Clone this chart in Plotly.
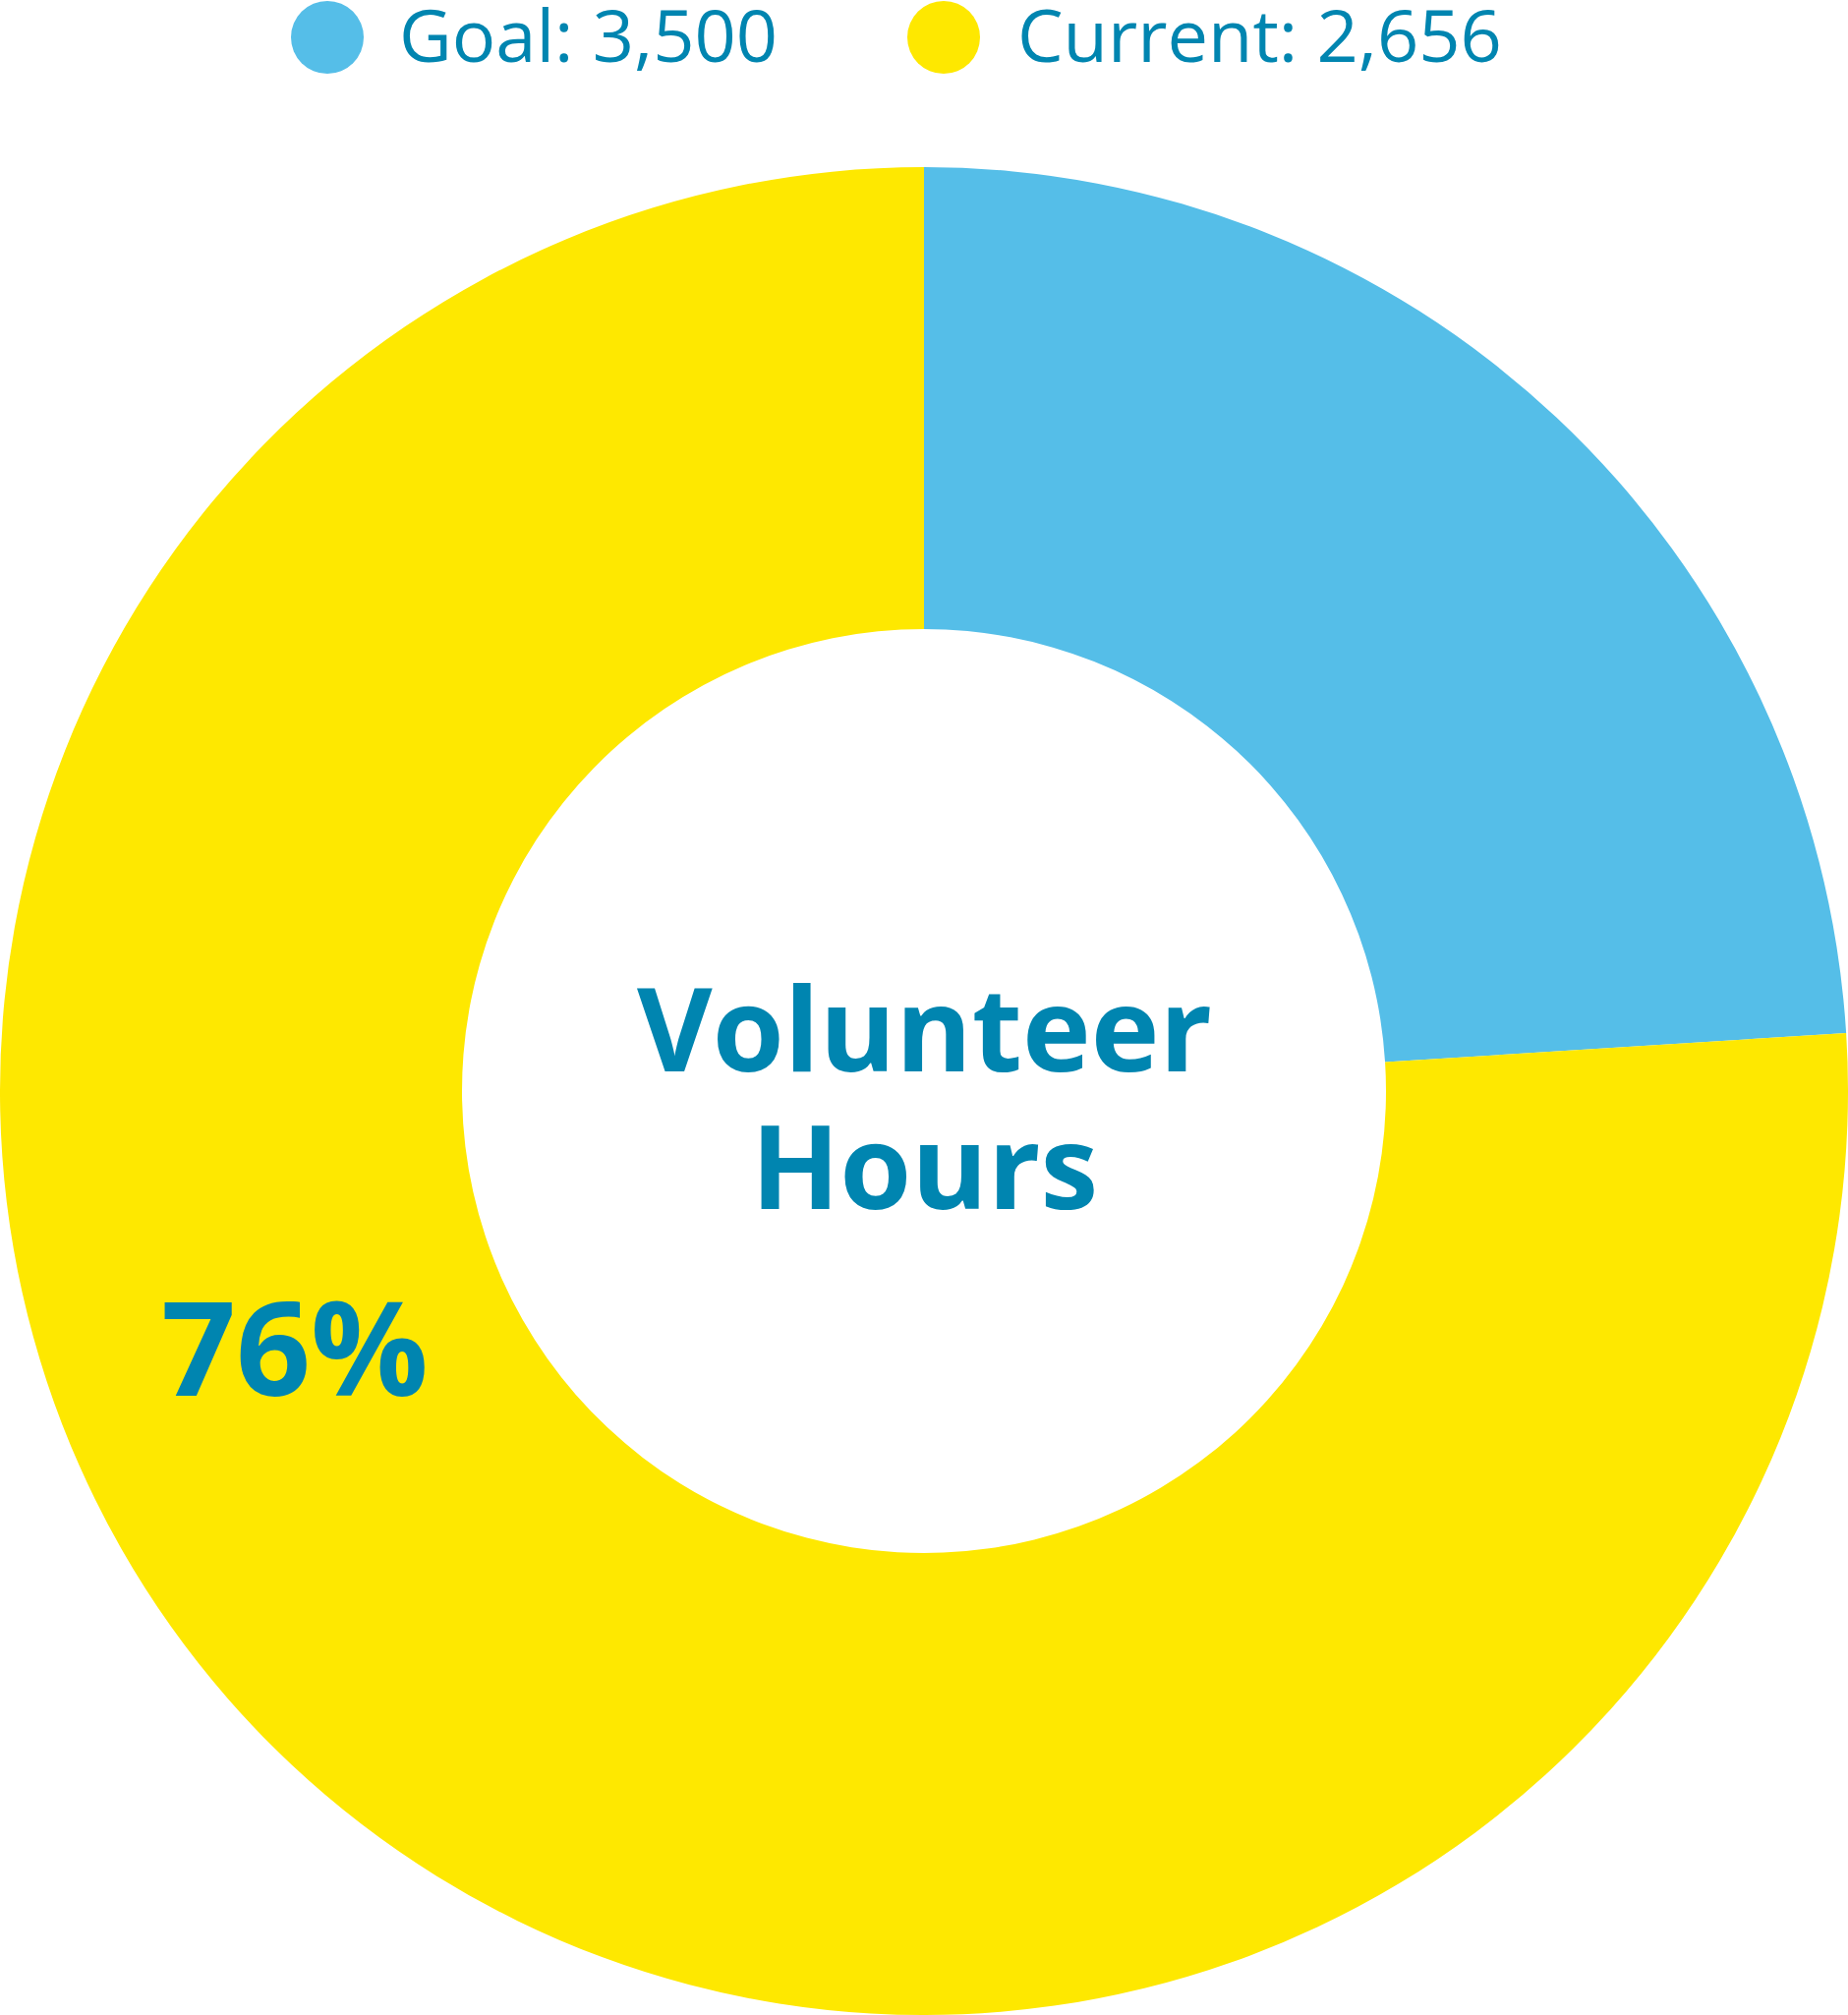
import plotly.graph_objects as go

# ---- data ----
goal = 3500
current = 2656
legend_labels = ["Goal: 3,500", "Current: 2,656"]
slice_colors = ["#55bee8", "#fee800"]
center_lines = ["Volunteer", "Hours"]

pct = round(current / goal * 100)
values = [100 - pct, pct]
pct_label = f"{pct}%"

W, H = 1880, 2050
TEXT = "#0085b0"
FONT = "Open Sans"


def px_x(x):
    return x / W


def px_y(y):
    return 1 - y / H


fig = go.Figure(
    go.Pie(
        labels=legend_labels,
        values=values,
        marker=dict(colors=slice_colors, line=dict(width=0)),
        hole=0.5,
        sort=False,
        direction="clockwise",
        rotation=0,
        textinfo="none",
        hoverinfo="label",
        showlegend=False,
        domain=dict(x=[0, 1], y=[0, (H - 170) / H]),
    )
)

annotations = []
shapes = []

# custom legend: circle swatch + label
legend_cx = [333, 960]
legend_tx = [404, 1033]
for lab, col, cx, tx in zip(legend_labels, slice_colors, legend_cx, legend_tx):
    shapes.append(dict(
        type="circle", xref="paper", yref="paper",
        xsizemode="pixel", ysizemode="pixel",
        xanchor=px_x(cx), yanchor=px_y(38),
        x0=-37, x1=37, y0=-37, y1=37,
        fillcolor=col, line=dict(width=0),
    ))
    annotations.append(dict(
        text=lab, xref="paper", yref="paper",
        x=px_x(tx), y=px_y(34), xanchor="left", yanchor="middle",
        showarrow=False, font=dict(family=FONT, size=74, color=TEXT),
    ))

# center text
for line, cy in zip(center_lines, [1044, 1184]):
    annotations.append(dict(
        text=f"<b>{line}</b>", xref="paper", yref="paper",
        x=px_x(940), y=px_y(cy), xanchor="center", yanchor="middle",
        showarrow=False, font=dict(family=FONT, size=118, color=TEXT),
    ))

# percentage label on the current slice
annotations.append(dict(
    text=f"<b>{pct_label}</b>", xref="paper", yref="paper",
    x=px_x(300), y=px_y(1368), xanchor="center", yanchor="middle",
    showarrow=False, font=dict(family=FONT, size=133, color=TEXT),
))

fig.update_layout(
    width=W, height=H,
    margin=dict(l=0, r=0, t=0, b=0),
    paper_bgcolor="white", plot_bgcolor="white",
    annotations=annotations, shapes=shapes,
    font=dict(family=FONT),
)

fig.write_html(
    "out.html",
    config={"displayModeBar": False},
    post_script="document.body.style.margin='0';document.body.style.overflow='hidden';",
)
